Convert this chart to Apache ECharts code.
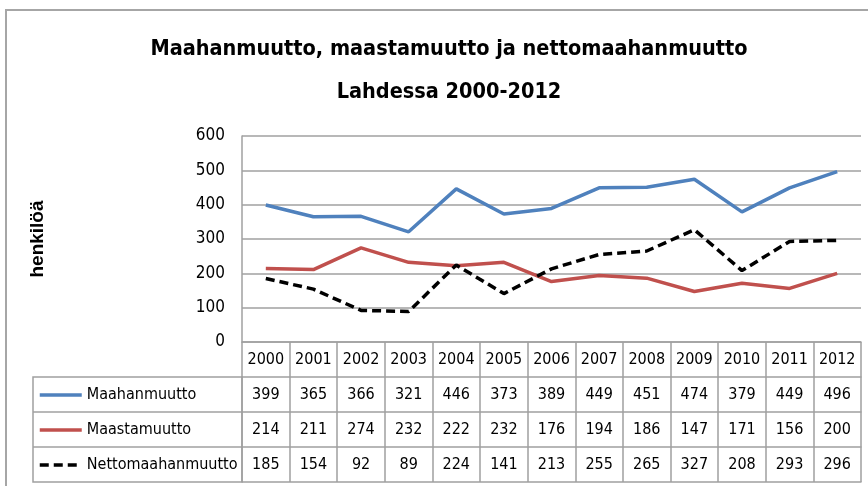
<!DOCTYPE html>
<html>
<head>
<meta charset="utf-8">
<title>Maahanmuutto Lahdessa</title>
<script src="https://cdn.jsdelivr.net/npm/echarts@6/dist/echarts.min.js"></script>
<style>
  html, body { margin: 0; padding: 0; background: #fff; }
  #chart { width: 868px; height: 486px; }
</style>
</head>
<body>
<div id="chart"></div>
<script>
// data
var years = ["2000", "2001", "2002", "2003", "2004", "2005", "2006", "2007", "2008", "2009", "2010", "2011", "2012"];
var maahanmuutto = [399, 365, 366, 321, 446, 373, 389, 449, 451, 474, 379, 449, 496];
var maastamuutto = [214, 211, 274, 232, 222, 232, 176, 194, 186, 147, 171, 156, 200];
var nettomaahanmuutto = [185, 154, 92, 89, 224, 141, 213, 255, 265, 327, 208, 293, 296];
var seriesNames = ["Maahanmuutto", "Maastamuutto", "Nettomaahanmuutto"];
var yTicks = [0, 100, 200, 300, 400, 500, 600];

var font = "'Liberation Sans Narrow', 'DejaVu Sans Condensed', Lato, sans-serif";
var gridGray = "#a0a0a0";
var rowH = 35;

var chartDom = document.getElementById("chart");
var myChart = echarts.init(chartDom);

// one category axis per table row, stacked with offset
var tableAxis = function (data, offset, showLabel, showTick) {
  return {
    type: "category",
    data: data,
    position: "bottom",
    offset: offset,
    boundaryGap: true,
    axisLine: { show: true, lineStyle: { color: gridGray, width: 1.5 } },
    axisTick: {
      show: showTick,
      interval: 0,
      length: rowH,
      lineStyle: { color: gridGray, width: 1.5 }
    },
    axisLabel: {
      show: showLabel,
      interval: 0,
      margin: 10,
      color: "#000",
      fontFamily: font,
      fontSize: 16
    },
    splitLine: { show: false }
  };
};

var option = {
  animation: false,
  title: {
    text: "Maahanmuutto, maastamuutto ja nettomaahanmuutto\nLahdessa 2000-2012",
    left: 444,
    top: 23,
    textAlign: "center",
    textStyle: {
      fontFamily: font,
      fontWeight: "bold",
      fontSize: 21.5,
      lineHeight: 43,
      color: "#000"
    }
  },
  legend: {
    orient: "vertical",
    left: 38,
    top: 387,
    padding: 0,
    itemWidth: 42,
    itemHeight: 14,
    itemGap: 19,
    data: seriesNames,
    itemStyle: { opacity: 0 },
    lineStyle: { width: 3.5 },
    textStyle: { fontFamily: font, fontSize: 16, lineHeight: 14, color: "#000", padding: [0, 0, 0, 0] }
  },
  grid: { left: 242, top: 136, right: 7, bottom: 144 },
  xAxis: [
    tableAxis(years, 0, true, true),
    tableAxis(maahanmuutto.map(String), rowH, true, true),
    tableAxis(maastamuutto.map(String), rowH * 2, true, true),
    tableAxis(nettomaahanmuutto.map(String), rowH * 3, true, true),
    tableAxis(years, rowH * 4, false, false)
  ],
  yAxis: {
    type: "value",
    min: yTicks[0],
    max: yTicks[yTicks.length - 1],
    interval: 100,
    name: "henkilöä",
    nameLocation: "middle",
    nameGap: 195,
    nameRotate: 90,
    nameTextStyle: {
      fontFamily: "'Liberation Sans', Arial, sans-serif",
      fontWeight: "bold",
      fontSize: 19,
      color: "#000"
    },
    axisLine: { show: true, lineStyle: { color: gridGray, width: 1.5 } },
    axisTick: { show: false },
    axisLabel: { margin: 17, color: "#000", fontFamily: font, fontSize: 17 },
    splitLine: { lineStyle: { color: gridGray, width: 1.5 } }
  },
  series: [
    {
      name: seriesNames[0],
      type: "line",
      data: maahanmuutto,
      symbol: "none",
      color: "#4f81bd",
      lineStyle: { width: 3.5, color: "#4f81bd" }
    },
    {
      name: seriesNames[1],
      type: "line",
      data: maastamuutto,
      symbol: "none",
      color: "#c0504d",
      lineStyle: { width: 3.5, color: "#c0504d" }
    },
    {
      name: seriesNames[2],
      type: "line",
      data: nettomaahanmuutto,
      symbol: "none",
      color: "#000",
      lineStyle: { width: 3.5, color: "#000", type: [9, 5] }
    }
  ],
  graphic: [
    // outer chart frame
    {
      type: "rect",
      shape: { x: 6, y: 10, width: 900, height: 500 },
      style: { fill: "none", stroke: "#a6a6a6", lineWidth: 2 },
      silent: true
    },
    // legend column of the data table
    {
      type: "rect",
      shape: { x: 33, y: 377, width: 209, height: rowH * 3 },
      style: { fill: "none", stroke: gridGray, lineWidth: 1.5 },
      silent: true
    },
    {
      type: "line",
      shape: { x1: 33, y1: 377 + rowH, x2: 242, y2: 377 + rowH },
      style: { stroke: gridGray, lineWidth: 1.5 },
      silent: true
    },
    {
      type: "line",
      shape: { x1: 33, y1: 377 + rowH * 2, x2: 242, y2: 377 + rowH * 2 },
      style: { stroke: gridGray, lineWidth: 1.5 },
      silent: true
    }
  ]
};

option && myChart.setOption(option);
</script>
</body>
</html>
